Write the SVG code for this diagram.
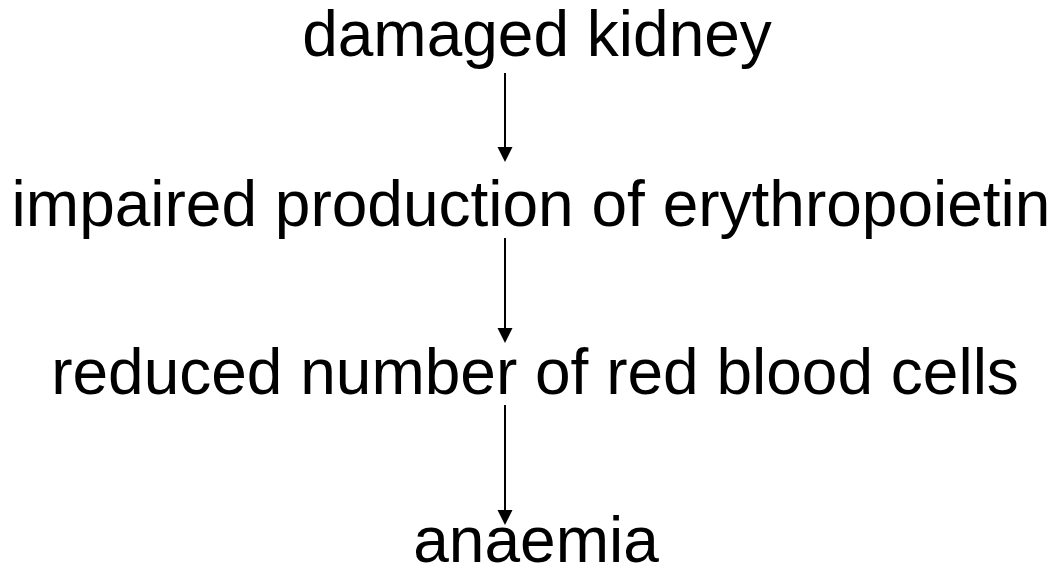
<svg xmlns="http://www.w3.org/2000/svg" width="1058" height="568" viewBox="0 0 1058 568">
<style>
.t{font-family:"Liberation Sans",Arial,sans-serif;font-size:64px;fill:#000;text-anchor:middle}
.c{stroke:#000;stroke-width:2;fill:none}
.h{fill:#000}
</style>
<rect width="1058" height="568" fill="#fff"/>
<g id="connectors">
<line class="c" x1="505" y1="73" x2="505" y2="150"/>
<polygon class="h" points="497.5,147 512.5,147 505,162"/>
<line class="c" x1="505" y1="238" x2="505" y2="331"/>
<polygon class="h" points="497.5,328 512.5,328 505,343"/>
<line class="c" x1="505" y1="405" x2="505" y2="513"/>
<polygon class="h" points="497.5,510 512.5,510 505,525"/>
</g>
<g id="n1"><text class="t" x="537" y="56">damaged kidney</text></g>
<g id="n2"><text class="t" x="531" y="226">impaired production of erythropoietin</text></g>
<g id="n3"><text class="t" x="535" y="394">reduced number of red blood cells</text></g>
<g id="n4"><text class="t" x="536" y="562">anaemia</text></g>
</svg>
